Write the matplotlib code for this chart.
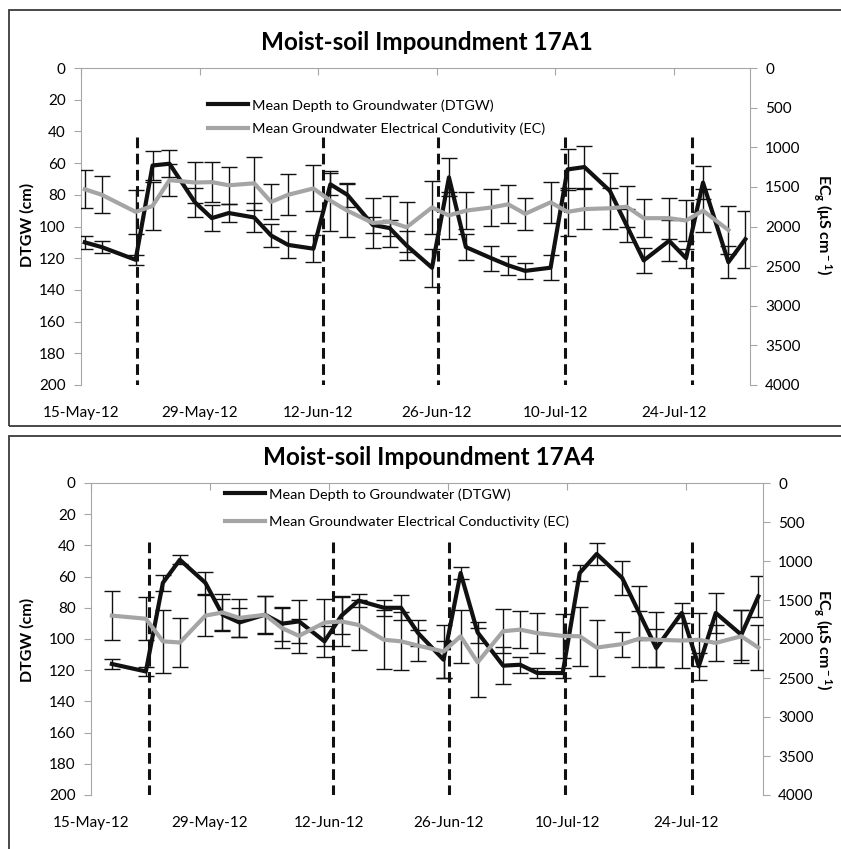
import numpy as np
import pandas as pd
import matplotlib
matplotlib.use('Agg')
import matplotlib.pyplot as plt
import matplotlib.dates as mdates
import matplotlib.ticker as ticker
from matplotlib.patches import Rectangle
from matplotlib.lines import Line2D

plt.rcParams['font.family'] = ['Lato', 'DejaVu Sans']
plt.rcParams['mathtext.fontset'] = 'custom'
plt.rcParams['mathtext.rm'] = 'Lato:bold'
plt.rcParams['mathtext.it'] = 'Lato:bold'
plt.rcParams['mathtext.bf'] = 'Lato:bold'

# sampling dates (Mon/Wed/Fri)
dates_all = ['2012-05-15', '2012-05-17', '2012-05-21', '2012-05-23', '2012-05-25',
             '2012-05-28', '2012-05-30', '2012-06-01', '2012-06-04', '2012-06-06',
             '2012-06-08', '2012-06-11', '2012-06-13', '2012-06-15', '2012-06-18',
             '2012-06-20', '2012-06-22', '2012-06-25', '2012-06-27', '2012-06-29',
             '2012-07-02', '2012-07-04', '2012-07-06', '2012-07-09', '2012-07-11',
             '2012-07-13', '2012-07-16', '2012-07-18', '2012-07-20', '2012-07-23',
             '2012-07-25', '2012-07-27', '2012-07-30', '2012-08-01']
tick_dates = ['2012-05-15', '2012-05-29', '2012-06-12', '2012-06-26', '2012-07-10', '2012-07-24']

# 17A1
dtgw_a1 = [110, 113, 121, 61.5, 60.4, 84.7, 94.7, 91.5, 94.3, 105.7, 111.6, 114,
           73.4, 80, 99, 101, 112, 126, 69, 113, 120, 124.5, 128, 126, 64, 62.5,
           77.5, 99.5, 121.4, 109, 120, 72.3, 122.5, 108]
dtgw_err_a1 = [4, 4, 3, 9, 8.5, 9, 8, 5.5, 9, 7, 8.5, 8.5, 7, 7.5, 5, 5, 9, 12, 12,
               8, 8, 6, 5, 8, 13, 13.5, 11, 10.5, 8, 13, 6, 10.5, 10, 18]
ec_a1 = [1530, 1600, 1815, 1740, 1415, 1445, 1440, 1480, 1455, 1690, 1600, 1520,
         1675, 1800, 1955, 1940, 2010, 1760, 1860, 1800, 1760, 1720, 1840, 1695,
         1815, 1780, 1770, 1750, 1895, 1895, 1925, 1800, 2045]
ec_err_a1 = [240, 235, 280, 300, 200, 260, 255, 235, 335, 220, 260, 290, 380, 335,
             320, 320, 315, 335, 300, 230, 230, 240, 200, 260, 300, 250, 260, 260,
             240, 260, 260, 270, 300]
flood_a1 = [6.6, 28.6, 42.1, 57.1, 72.1]  # days after 15-May

# 17A4
dtgw_a4 = [116, 120.8, 64, 49.2, 64, 84.4, 89.4, 84.4, 90.2, 88.7, 101.5, 85, 75.4,
           80, 80, 96.2, 113.3, 57.7, 95.8, 117.1, 116.5, 121.8, 121.8, 57.7, 45.5,
           60.9, 83.3, 105.8, 83.3, 117.5, 83.3, 97.3, 72.7]
dtgw_err_a4 = [3.5, 3, 5, 3, 7, 10, 9, 12, 11, 14, 10, 12, 4, 5, 8, 8.6, 11.7, 4, 7,
               12, 5, 3, 3, 5, 7, 10.6, 17.5, 12, 6.5, 8.5, 12.8, 16, 13.3]
ec_a4 = [1700, 1740, 2030, 2045, 1700, 1660, 1730, 1690, 1860, 1960, 1790, 1775,
         1820, 2010, 2030, 2085, 2160, 1965, 2300, 1900, 1880, 1925, 1960, 1965,
         2110, 2065, 1995, 2010, 2020, 2010, 2050, 1965, 2110]
ec_err_a4 = [310, 275, 400, 310, 260, 240, 240, 240, 260, 220, 300, 320, 320, 380,
             370, 200, 340, 340, 440, 280, 240, 260, 280, 380, 360, 160, 360, 350,
             350, 340, 235, 340, 285]
flood_a4 = [6.85, 28.5, 42.1, 55.7, 70.6]

W, H = 841, 849
def fx(px):
    return px / W
def fy(py):
    return 1 - py / H

fig = plt.figure(figsize=(W / 100, H / 100), dpi=100)
axis_grey = '#A6A6A6'
black = '#111111'
grey_line = '#A5A5A5'
tick_fs = 11


def draw_panel(box, dates, dtgw, dtgw_err, ec, ec_err, flood, flood_top, title, ec_name,
               title_xy, leg_xy, leg_space, lab_left_x, lab_right_x, lab_y):
    left, top, right, bottom = box
    ax = fig.add_axes([fx(left), fy(bottom), fx(right) - fx(left), (bottom - top) / H])
    x = mdates.date2num(pd.to_datetime(dates)) + 0.45
    start = mdates.date2num(pd.Timestamp('2012-05-15'))

    ax.vlines(start + np.array(flood), flood_top, 200, colors=black, lw=2.2,
              linestyles=(0, (3.5, 1.8)), zorder=2)
    ax.errorbar(x, dtgw, yerr=dtgw_err, color=black, lw=3, ecolor=black, elinewidth=1,
                capsize=5.5, capthick=1, zorder=3)
    ax.set_ylim(200, 0)
    ax.set_xlim(start, mdates.date2num(pd.Timestamp('2012-08-02')))
    ax.yaxis.set_major_locator(ticker.MultipleLocator(20))
    ax.xaxis.set_major_locator(ticker.FixedLocator(mdates.date2num(pd.to_datetime(tick_dates))))
    ax.xaxis.set_major_formatter(mdates.DateFormatter('%d-%b-%y'))
    ax.tick_params(axis='x', bottom=False, top=True, labelbottom=True, labeltop=False,
                   direction='in', length=5, color=axis_grey, labelsize=tick_fs, pad=15)
    ax.tick_params(axis='y', direction='out', length=5, color=axis_grey, labelsize=tick_fs, pad=6)
    for s in ['right', 'bottom']:
        ax.spines[s].set_visible(False)
    for s in ['left', 'top']:
        ax.spines[s].set_color(axis_grey)

    ax2 = ax.twinx()
    ax2.errorbar(x[:len(ec)], ec, yerr=ec_err, color=grey_line, lw=3, ecolor=black,
                 elinewidth=1, capsize=5.5, capthick=1, zorder=3)
    ax2.set_ylim(4000, 0)
    ax2.yaxis.set_major_locator(ticker.MultipleLocator(500))
    ax2.tick_params(axis='y', direction='out', length=5, color=axis_grey, labelsize=tick_fs, pad=6)
    for s in ['left', 'top', 'bottom']:
        ax2.spines[s].set_visible(False)
    ax2.spines['right'].set_color(axis_grey)

    handles = [Line2D([], [], color=black, lw=3), Line2D([], [], color=grey_line, lw=3)]
    ax2.legend(handles, ['Mean Depth to Groundwater (DTGW)', ec_name], loc='upper left',
               bbox_to_anchor=(fx(leg_xy[0]), fy(leg_xy[1])), bbox_transform=fig.transFigure,
               frameon=False, borderpad=0, borderaxespad=0, handlelength=2.8,
               handletextpad=0.25, labelspacing=leg_space, fontsize=10.4)

    fig.text(fx(title_xy[0]), fy(title_xy[1]), title, ha='center', va='center',
             fontsize=17.5, fontweight='bold')
    fig.text(fx(lab_left_x), fy(lab_y), 'DTGW (cm)', ha='center', va='center',
             rotation=90, fontsize=11.5, fontweight='bold')
    fig.text(fx(lab_right_x), fy(lab_y), r'EC$_{\rm g}$ ($\rm \mu$S cm$^{\rm -1}$)',
             ha='center', va='center', rotation=270, fontsize=11.5, fontweight='bold')


draw_panel((81, 68, 750, 385), dates_all, dtgw_a1, dtgw_err_a1, ec_a1, ec_err_a1,
           flood_a1, 43.5, 'Moist-soil Impoundment 17A1',
           'Mean Groundwater Electrical Condutivity (EC)',
           (427, 42), (208, 99), 0.75, 27, 822, 225)
draw_panel((91, 483, 763, 795), dates_all[1:], dtgw_a4, dtgw_err_a4, ec_a4, ec_err_a4,
           flood_a4, 38, 'Moist-soil Impoundment 17A4',
           'Mean Groundwater Electrical Conductivity (EC)',
           (429, 458), (225, 488), 1.05, 27, 822, 640)

# chart borders
fig.add_artist(Rectangle((fx(9), fy(426)), 1.2, (426 - 10) / H, transform=fig.transFigure,
                         fill=False, ec='#3A3A3A', lw=1.3))
fig.add_artist(Rectangle((fx(9), fy(920)), 1.2, (920 - 436) / H, transform=fig.transFigure,
                         fill=False, ec='#3A3A3A', lw=1.3))

fig.savefig('out.png', dpi=100)
